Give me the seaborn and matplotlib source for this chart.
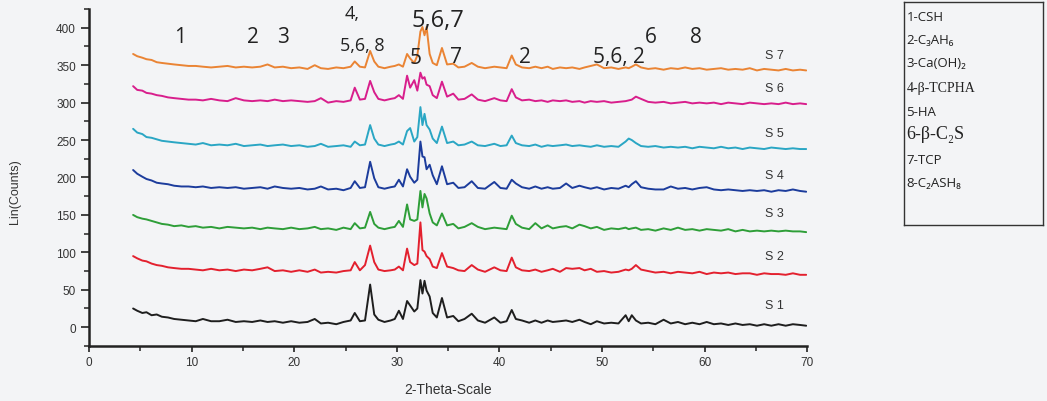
import numpy as np
import pandas as pd
import matplotlib
matplotlib.use("Agg")
import matplotlib.pyplot as plt
from matplotlib.ticker import MultipleLocator
import seaborn as sns

# ---------------- data ----------------
two_theta = [4.3, 4.7, 5.2, 5.6, 6.1, 6.6, 7.1, 7.7, 8.3, 9.0, 9.7,
             10.4, 11.1, 11.9, 12.7, 13.5, 14.3, 15.1, 15.9, 16.7, 17.4,
             18.1, 18.9, 19.7, 20.5, 21.3, 22.0, 22.6, 23.3, 24.1, 24.8,
             25.5, 25.9, 26.4, 26.9, 27.4, 27.8, 28.2, 28.8, 29.4, 29.8,
             30.2, 30.6, 31.0, 31.3, 31.7, 32.0, 32.3, 32.5, 32.7, 32.9,
             33.2, 33.5, 33.9, 34.4, 34.9, 35.5, 36.0, 36.6, 37.3, 37.9,
             38.6, 39.5, 40.1, 40.7, 41.2, 41.6, 42.2, 42.9, 43.5, 44.1,
             44.7, 45.2, 45.9, 46.5, 47.1, 47.8, 48.3, 48.9, 49.5, 50.2,
             50.9, 51.6, 52.3, 52.6, 52.9, 53.3, 53.8, 54.5, 55.2, 56.0,
             56.7, 57.4, 58.1, 58.8, 59.5, 60.2, 60.9, 61.6, 62.3, 63.0,
             63.7, 64.4, 65.1, 65.8, 66.5, 67.2, 67.9, 68.6, 69.3, 69.9]

s1 = [20, 17, 14, 15, 11, 12, 9, 8, 6, 5, 4,
      3, 6, 3, 3, 5, 2, 3, 2, 4, 2, 3, 1, 3, 1, 2, 6, 0, 1, -1, 2, 4,
      14, 3, 4, 52, 12, 5, 2, 4, 6, 17, 6, 30, 24, 16, 20, 58, 40, 57, 44,
      36, 14, 8, 34, 8, 10, 3, 6, 13, 4, 1, 8, 1, 3, 18, 6, 4, 1, 4, 1,
      4, 2, 3, 4, 2, 5, 2, -1, 3, 0, 1, 0, 11, 3, 11, 4, 0, 1, -1, 5,
      0, 2, -1, 1, -1, 2, -1, 0, -2, 0, -2, -1, -3, -1, -3, -1, -3, -1, -2, -3]
s2 = [22, 19, 16, 15, 12, 10, 9, 7, 6, 5, 5,
      4, 3, 5, 3, 4, 2, 4, 3, 5, 7, 2, 3, 1, 3, 1, 4, 0, 1, 0, 2, 3,
      14, 3, 10, 36, 14, 4, 2, 3, 4, 8, 3, 32, 14, 10, 12, 67, 30, 28, 22,
      18, 8, 6, 26, 8, 6, 3, 2, 10, 4, 1, 7, 3, 2, 20, 7, 3, 2, 4, 1,
      3, 5, 1, 6, 5, 6, 3, 5, 1, 2, 0, 1, 4, 3, 5, 10, 4, 2, 0, 1,
      -1, 1, 0, -1, 1, -2, 0, -1, 0, -2, -1, -1, -3, -1, -2, -2, -3, -1, -3, -3]
s3 = [20, 17, 15, 14, 12, 10, 8, 7, 5, 6, 4,
      5, 3, 4, 2, 4, 3, 2, 3, 1, 3, 2, 1, 3, 1, 2, 4, 1, 2, 0, 3, 1,
      9, 2, 3, 24, 8, 3, 1, 3, 4, 12, 4, 34, 14, 12, 14, 52, 30, 48, 42,
      22, 10, 6, 22, 6, 8, 2, 4, 9, 4, 1, 3, 2, 1, 19, 8, 3, 1, 9, 2,
      6, 2, 4, 5, 2, 7, 5, 2, 4, 0, 2, 1, 3, 1, 2, 3, 0, 1, -1, 2,
      0, 3, 0, 1, -1, 1, 0, -1, 1, -2, 0, -2, -1, -2, -1, -2, -1, -2, -2, -3]
s4 = [27, 22, 18, 15, 13, 10, 9, 8, 6, 5, 5,
      4, 5, 3, 4, 3, 4, 2, 3, 4, 2, 5, 3, 2, 3, 1, 2, 5, 1, 2, 0, 3,
      12, 3, 4, 38, 16, 4, 2, 4, 5, 14, 5, 28, 18, 10, 14, 65, 45, 44, 28,
      34, 20, 8, 32, 8, 10, 3, 4, 12, 3, 2, 11, 3, 2, 14, 9, 4, 2, 5, 2,
      4, 2, 3, 9, 3, 6, 4, 2, 4, 1, 3, 2, 6, 4, 8, 12, 4, 2, 1, 1,
      5, 2, 3, 1, 3, 4, 1, 0, 1, 0, -1, 0, -1, 0, -2, 0, -1, 1, -1, -2]
s5 = [25, 20, 18, 14, 13, 11, 9, 8, 7, 6, 5,
      4, 6, 3, 4, 3, 5, 2, 3, 4, 2, 3, 4, 2, 3, 1, 2, 5, 1, 2, 3, 1,
      8, 3, 4, 30, 12, 4, 2, 4, 5, 8, 4, 22, 26, 8, 14, 54, 30, 45, 30,
      24, 12, 6, 28, 6, 8, 3, 4, 8, 3, 2, 5, 2, 3, 16, 6, 3, 2, 4, 1,
      3, 2, 3, 4, 2, 3, 2, 1, 3, 1, 2, 1, 8, 12, 10, 6, 2, 1, 2, 0,
      1, 0, 1, -1, 1, 0, -1, 1, -1, 0, -2, 0, -1, -2, 0, -1, -2, -1, -2, -2]
s6 = [22, 17, 16, 13, 12, 10, 9, 7, 6, 5, 4,
      4, 3, 5, 3, 2, 6, 3, 2, 3, 2, 4, 2, 3, 2, 1, 2, 6, 0, 2, 1, 3,
      20, 4, 5, 29, 14, 5, 3, 5, 6, 10, 5, 36, 20, 30, 16, 40, 32, 34, 24,
      22, 10, 6, 28, 8, 12, 4, 5, 11, 4, 2, 6, 3, 2, 18, 7, 3, 4, 2, 3,
      1, 3, 2, 3, 1, 2, 0, 2, 1, 2, 0, 1, 2, 3, 4, 8, 5, 1, 0, 1,
      -1, 0, 1, -1, 0, -1, 0, -2, 0, -1, -2, 0, -1, -2, -1, -2, 0, -2, -1, -2]
s7 = [20, 17, 15, 13, 12, 9, 8, 7, 6, 5, 4,
      4, 3, 2, 3, 4, 2, 3, 2, 3, 6, 2, 3, 1, 2, 0, 5, 1, 0, 2, 1, 3,
      10, 3, 2, 24, 10, 3, 1, 3, 4, 6, 3, 20, 14, 8, 18, 50, 56, 45, 56,
      20, 8, 5, 28, 6, 7, 2, 3, 8, 3, 1, 3, 2, 1, 18, 6, 2, 1, 3, 1,
      3, 0, 2, 1, 2, 0, 2, 4, 6, 1, 2, 0, 2, 1, 3, 6, 2, 0, 1, -1,
      1, 0, 2, 0, 1, -1, 0, 1, -1, 0, -1, 1, -2, 0, -1, -2, 0, -2, -1, -2]

samples = ["S 1", "S 2", "S 3", "S 4", "S 5", "S 6", "S 7"]
offsets = [5, 73, 130, 183, 240, 300, 345]
series = [s1, s2, s3, s4, s5, s6, s7]
colors = ["#1e1e1e", "#e3202e", "#2e9e38", "#1c3c9c", "#2aa6c4", "#d81e8c", "#ea8434"]
label_y = [30, 95, 152, 203, 259, 320, 364]

peak_labels = ["1", "2", "3", "4,", "5,6, 8", "5,6,7", "5", "7", "2", "5,6, 2", "6", "8"]
peak_x = [8.9, 16.0, 18.9, 25.6, 26.6, 34.0, 31.8, 35.8, 42.5, 51.6, 54.8, 59.2]
peak_y = [389, 389, 389, 420, 377, 411, 360, 361, 361, 361, 388, 388]
peak_size = [15, 15, 15, 13, 13, 17, 15, 15, 15, 15, 15, 15]

legend_entries = ["1-CSH", "2-C\u2083AH\u2086", "3-Ca(OH)\u2082", "4-\u03b2-TCPHA",
                  "5-HA", "6-\u03b2-C\u2082S", "7-TCP", "8-C\u2082ASH\u2088"]

# ---------------- build table ----------------
rows = []
for name, off, vals in zip(samples, offsets, series):
    for xv, v in zip(two_theta, vals):
        rows.append({"sample": name, "two_theta": xv, "counts": v + off})
df = pd.DataFrame(rows)

sns.set_style("ticks")
plt.rcParams["font.family"] = ["Liberation Sans", "DejaVu Sans"]
bg = "#f3f4f6"

fig = plt.figure(figsize=(10.47, 4.02), dpi=100, facecolor=bg)
ax = fig.add_axes([0.085, 0.137, 0.686, 0.838], facecolor=bg)

sns.lineplot(data=df, x="two_theta", y="counts", hue="sample",
             palette=dict(zip(samples, colors)), linewidth=1.4,
             legend=False, ax=ax, estimator=None, sort=False)

ax.set_xlim(0, 70)
ax.set_ylim(-25, 425)
ax.xaxis.set_major_locator(MultipleLocator(10))
ax.xaxis.set_minor_locator(MultipleLocator(5))
ax.yaxis.set_major_locator(MultipleLocator(50))
ax.yaxis.set_minor_locator(MultipleLocator(25))
ax.set_yticks(list(range(0, 401, 50)))
ax.tick_params(axis="y", which="major", direction="out", length=6, width=1.3,
               labelsize=8.5, colors="#333333")
ax.tick_params(axis="x", which="major", direction="out", length=4, width=1.3,
               labelsize=8.5, colors="#333333")
ax.tick_params(axis="both", which="minor", direction="out", length=3.5, width=1.2,
               colors="#333333")
for side in ["top", "right"]:
    ax.spines[side].set_visible(False)
for side in ["left", "bottom"]:
    ax.spines[side].set_linewidth(1.8)
    ax.spines[side].set_color("#222222")

ax.set_xlabel("2-Theta-Scale", fontsize=10, color="#333333", labelpad=10)
ax.set_ylabel("Lin(Counts)", fontsize=9, color="#333333", labelpad=14)
ax.yaxis.set_label_coords(-0.095, 0.46)

for name, c, ly in zip(samples, colors, label_y):
    ax.text(66.8, ly, name, fontsize=9, color="#333333", ha="center", va="center")

for t, px, py, fs in zip(peak_labels, peak_x, peak_y, peak_size):
    ax.text(px, py, t, fontsize=fs, color="#222222", ha="center", va="center",
            family=["Open Sans", "DejaVu Sans"])

# legend box
lax = fig.add_axes([0.863, 0.437, 0.133, 0.555], facecolor=bg)
lax.set_xticks([])
lax.set_yticks([])
for s in lax.spines.values():
    s.set_linewidth(1.0)
    s.set_color("#333333")
lax.set_xlim(0, 1)
lax.set_ylim(0, 1)
ypos = [0.935, 0.832, 0.728, 0.617, 0.51, 0.41, 0.295, 0.19]
for i, (t, yy) in enumerate(zip(legend_entries, ypos)):
    if i == 5:
        lax.text(0.02, yy, t, fontsize=13, family=["Liberation Serif", "DejaVu Serif"],
                 color="#222222", va="center")
    elif i == 3:
        lax.text(0.02, yy, t, fontsize=10, family=["Liberation Serif", "DejaVu Serif"],
                 color="#222222", va="center")
    else:
        lax.text(0.02, yy, t, fontsize=9.5, family=["Open Sans", "DejaVu Sans"],
                 color="#222222", va="center")

fig.savefig("out.png", dpi=100, facecolor=bg)
